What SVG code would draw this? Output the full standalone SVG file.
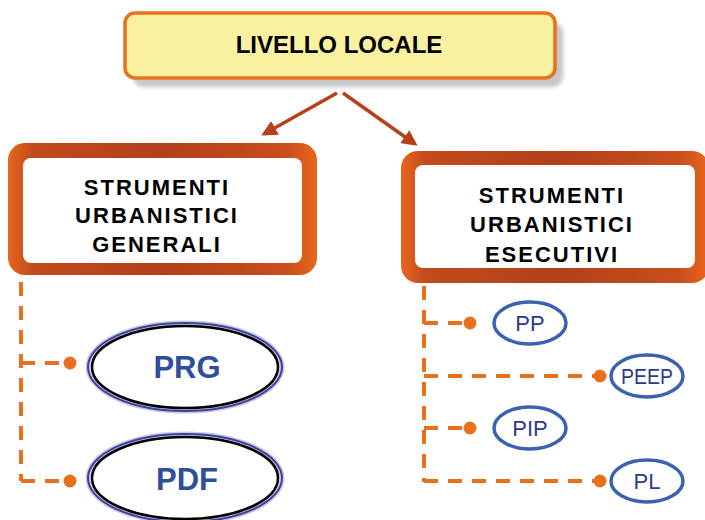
<svg xmlns="http://www.w3.org/2000/svg" width="705" height="520" viewBox="0 0 705 520">
<style>
.t{font-family:"Liberation Sans",Arial,sans-serif;font-weight:bold;fill:#000;text-anchor:middle}
.h{font-size:22px;letter-spacing:2px}
.big{font-family:"Liberation Sans",Arial,sans-serif;font-weight:bold;font-size:31px;fill:#2F4F9C;text-anchor:middle}
.sm{font-family:"Liberation Sans",Arial,sans-serif;font-size:22px;fill:#2E3A8C;text-anchor:middle}
.dash{fill:none;stroke:#E8711F;stroke-width:4;stroke-dasharray:14 10}
.dot{fill:#E8711F}
.arr{stroke:#B5401A;stroke-width:3.5;fill:none;marker-end:url(#ah)}
.se{fill:#fff;stroke:#3A62AE;stroke-width:3.5}
</style>
<defs>
<marker id="ah" viewBox="0 0 10 10" refX="8" refY="5" markerWidth="4.5" markerHeight="4.5" orient="auto" markerUnits="strokeWidth">
<path d="M0,0 L10,5 L0,10 z" fill="#B5401A"/>
</marker>
<linearGradient id="fr" x1="0" y1="0" x2="1" y2="0">
<stop offset="0" stop-color="#E8661E"/>
<stop offset="0.08" stop-color="#C24B1C"/>
<stop offset="0.5" stop-color="#B2401A"/>
<stop offset="0.9" stop-color="#C84E1C"/>
<stop offset="1" stop-color="#E8661E"/>
</linearGradient>
<filter id="bl" x="-10%" y="-30%" width="120%" height="160%"><feGaussianBlur stdDeviation="2"/></filter>
</defs>

<g id="livello-locale">
<rect x="133" y="22" width="430" height="65" rx="10" fill="#C6C6C6" filter="url(#bl)"/>
<rect x="125" y="13" width="430" height="65" rx="10" fill="#F9F1A0" stroke="#E8711F" stroke-width="3.5"/>
<text class="t" x="339" y="53" font-size="24">LIVELLO LOCALE</text>
</g>

<g id="connectors">
<path class="arr" d="M337,93 L264,134"/>
<path class="arr" d="M343,93 L415,144"/>
<path class="dash" d="M21,282 V481"/>
<path class="dash" d="M21,363 H70"/>
<path class="dash" d="M21,481 H70"/>
<circle class="dot" cx="70" cy="363" r="6.5"/>
<circle class="dot" cx="70" cy="481" r="6.5"/>
<path class="dash" d="M424,286 V482"/>
<path class="dash" d="M424,323 H470"/>
<path class="dash" d="M424,376 H600"/>
<path class="dash" d="M424,428 H470"/>
<path class="dash" d="M424,481 H600"/>
<circle class="dot" cx="470" cy="323" r="6.5"/>
<circle class="dot" cx="600" cy="376" r="6.5"/>
<circle class="dot" cx="470" cy="428" r="6.5"/>
<circle class="dot" cx="600" cy="481" r="6.5"/>
</g>

<g id="strumenti-generali">
<rect x="8" y="143" width="309" height="132" rx="17" fill="url(#fr)"/>
<rect x="23" y="158" width="279" height="105" rx="8" fill="#fff"/>
<text class="t h" x="157" y="195">STRUMENTI</text>
<text class="t h" x="157" y="223">URBANISTICI</text>
<text class="t h" x="157" y="252">GENERALI</text>
</g>

<g id="strumenti-esecutivi">
<rect x="401" y="151" width="308" height="132" rx="17" fill="url(#fr)"/>
<rect x="415" y="165" width="280" height="103" rx="8" fill="#fff"/>
<text class="t h" x="552" y="203">STRUMENTI</text>
<text class="t h" x="552" y="232">URBANISTICI</text>
<text class="t h" x="552" y="262">ESECUTIVI</text>
</g>

<g id="prg">
<ellipse cx="185" cy="367" rx="97" ry="44" fill="#fff" stroke="#C9C9E6" stroke-width="5"/>
<ellipse cx="185" cy="367" rx="97" ry="44" fill="none" stroke="#3F3F9C" stroke-width="2"/>
<ellipse cx="185" cy="367" rx="93" ry="41" fill="none" stroke="#000" stroke-width="2.5"/>
<text class="big" x="187" y="378">PRG</text>
</g>

<g id="pdf">
<ellipse cx="185" cy="478" rx="97" ry="44" fill="#fff" stroke="#C9C9E6" stroke-width="5"/>
<ellipse cx="185" cy="478" rx="97" ry="44" fill="none" stroke="#3F3F9C" stroke-width="2"/>
<ellipse cx="185" cy="478" rx="93" ry="41" fill="none" stroke="#000" stroke-width="2.5"/>
<text class="big" x="187" y="490">PDF</text>
</g>

<g id="pp">
<ellipse class="se" cx="530" cy="323" rx="36" ry="21"/>
<text class="sm" x="530" y="331">PP</text>
</g>
<g id="peep">
<ellipse class="se" cx="647" cy="376" rx="36" ry="21"/>
<text class="sm" x="647" y="384" textLength="52" lengthAdjust="spacingAndGlyphs">PEEP</text>
</g>
<g id="pip">
<ellipse class="se" cx="530" cy="428" rx="36" ry="21"/>
<text class="sm" x="530" y="436">PIP</text>
</g>
<g id="pl">
<ellipse class="se" cx="647" cy="481" rx="36" ry="21"/>
<text class="sm" x="647" y="489">PL</text>
</g>
</svg>
